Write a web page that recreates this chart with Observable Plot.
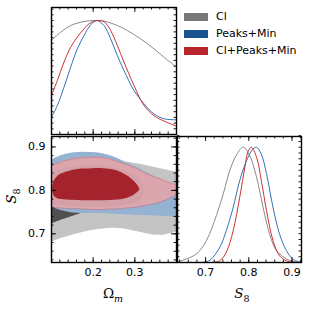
<!DOCTYPE html>
<html><head><meta charset="utf-8">
<script src="https://cdn.jsdelivr.net/npm/d3@7"></script>
<script src="https://cdn.jsdelivr.net/npm/@observablehq/plot@0.6"></script>
<style>
body{margin:0;background:#fff;}
#wrap{position:relative;width:310px;height:310px;overflow:hidden;font-family:"DejaVu Sans",sans-serif;}
.lab{position:absolute;font-family:"DejaVu Serif",serif;font-size:13.5px;color:#000;white-space:nowrap;line-height:1;}
.lab sub{font-size:9.5px;}
.leg{position:absolute;left:184px;font-size:11px;color:#000;line-height:1;white-space:nowrap;}
.leg span.p{display:inline-block;width:24px;height:8px;vertical-align:middle;margin-right:8px;}
</style></head><body><div id="wrap"></div>
<script>
// ---------- data ----------
const seriesNames = ["Cl", "Peaks+Min", "Cl+Peaks+Min"];
const patchColors = ["#787878", "#1b5591", "#b8242b"];
const lineColors = ["#8a8a8a", "#3372b5", "#d03036"];

// 1D posterior of Omega_m
const omCl = [0.1, 0.122, 0.146, 0.178, 0.202, 0.226, 0.258, 0.282, 0.314, 0.346, 0.37, 0.4];
const pOmCl = [0.825, 0.897, 0.956, 0.991, 1.0, 0.994, 0.956, 0.912, 0.839, 0.751, 0.678, 0.59];
const omPM = [0.1, 0.114, 0.13, 0.146, 0.162, 0.178, 0.194, 0.208, 0.226, 0.242, 0.258, 0.274, 0.298, 0.322, 0.346, 0.37, 0.4];
const pOmPM = [0.152, 0.254, 0.415, 0.59, 0.751, 0.868, 0.962, 1.0, 0.956, 0.839, 0.693, 0.561, 0.386, 0.269, 0.181, 0.138, 0.129];
const omAll = [0.1, 0.114, 0.13, 0.146, 0.162, 0.178, 0.194, 0.214, 0.226, 0.242, 0.258, 0.274, 0.298, 0.322, 0.346, 0.37, 0.4];
const pOmAll = [0.342, 0.474, 0.635, 0.766, 0.854, 0.927, 0.98, 1.0, 0.99, 0.912, 0.78, 0.635, 0.43, 0.255, 0.165, 0.118, 0.073];

// 1D posterior of S8
const s8Cl = [0.635, 0.656, 0.679, 0.702, 0.725, 0.741, 0.756, 0.772, 0.787, 0.802, 0.818, 0.833, 0.848, 0.864, 0.887, 0.902, 0.922];
const pS8Cl = [0.005, 0.032, 0.075, 0.191, 0.408, 0.596, 0.798, 0.937, 1.0, 0.928, 0.74, 0.48, 0.249, 0.104, 0.032, 0.01, 0.0];
const s8PM = [0.69, 0.71, 0.733, 0.748, 0.764, 0.779, 0.795, 0.81, 0.818, 0.829, 0.841, 0.856, 0.871, 0.887, 0.902, 0.922];
const pS8PM = [0.0, 0.02, 0.133, 0.278, 0.48, 0.711, 0.885, 0.985, 1.0, 0.94, 0.77, 0.48, 0.249, 0.104, 0.03, 0.0];
const s8All = [0.71, 0.733, 0.748, 0.764, 0.779, 0.791, 0.798, 0.806, 0.818, 0.829, 0.841, 0.856, 0.871, 0.887, 0.91];
const pS8All = [0.0, 0.015, 0.09, 0.278, 0.566, 0.827, 0.96, 1.0, 0.913, 0.711, 0.451, 0.191, 0.06, 0.015, 0.0];

// 2D contours (Omega_m vs S8): lower / upper boundaries
const gridOm = [0.1, 0.125, 0.15, 0.175, 0.2, 0.225, 0.25, 0.275, 0.3, 0.325, 0.35, 0.375, 0.4];
const clOuterHi = [0.860, 0.864, 0.868, 0.871, 0.872, 0.872, 0.870, 0.866, 0.862, 0.858, 0.852, 0.847, 0.842];
const clOuterLo = [0.681, 0.690, 0.697, 0.703, 0.708, 0.711, 0.713, 0.711, 0.706, 0.701, 0.697, 0.698, 0.704];
const pmOuterHi = [0.869, 0.880, 0.886, 0.888, 0.887, 0.884, 0.877, 0.866, 0.855, 0.843, 0.831, 0.820, 0.808];
const pmOuterLo = [0.762, 0.753, 0.748, 0.747, 0.747, 0.746, 0.745, 0.744, 0.743, 0.742, 0.741, 0.740, 0.738];
const allOuterHi = [0.856, 0.866, 0.872, 0.875, 0.876, 0.875, 0.869, 0.861, 0.852, 0.840, 0.830, 0.821, 0.812];
const allOuterLo = [0.761, 0.759, 0.758, 0.757, 0.756, 0.756, 0.757, 0.759, 0.761, 0.765, 0.770, 0.778, 0.790];

const clInnerOm = [0.1, 0.125, 0.15, 0.175, 0.2, 0.225, 0.25, 0.275, 0.3, 0.32];
const clInnerHi = [0.830, 0.836, 0.840, 0.842, 0.842, 0.840, 0.836, 0.830, 0.820, 0.800];
const clInnerLo = [0.723, 0.732, 0.740, 0.748, 0.754, 0.759, 0.763, 0.767, 0.772, 0.785];
const pmInnerOm = [0.1, 0.125, 0.15, 0.175, 0.2, 0.225, 0.25, 0.275, 0.3, 0.315, 0.322];
const pmInnerHi = [0.838, 0.848, 0.853, 0.856, 0.857, 0.856, 0.852, 0.845, 0.834, 0.822, 0.808];
const pmInnerLo = [0.768, 0.765, 0.763, 0.762, 0.762, 0.762, 0.763, 0.765, 0.770, 0.778, 0.792];
const allInnerOm = [0.103, 0.107, 0.115, 0.125, 0.15, 0.175, 0.2, 0.225, 0.25, 0.27, 0.29, 0.30, 0.308, 0.312];
const allInnerHi = [0.808, 0.822, 0.832, 0.838, 0.846, 0.849, 0.850, 0.850, 0.847, 0.840, 0.828, 0.819, 0.810, 0.803];
const allInnerLo = [0.796, 0.786, 0.781, 0.779, 0.777, 0.776, 0.776, 0.776, 0.777, 0.779, 0.785, 0.790, 0.796, 0.801];

// axis ticks
const omDomain = [0.1, 0.4];
const s8Domain = [0.634, 0.924];
const omLabels = [0.2, 0.3];
const s8Labels = [0.7, 0.8, 0.9];

// ---------- helpers ----------
const pts = (xs, ys) => xs.map((x, i) => ({x, y: ys[i]}));
const band = (xs, lo, hi) => xs.map((x, i) => ({x, lo: lo[i], hi: hi[i]}));
const rng = (a, b, s) => d3.range(Math.round(a / s), Math.round(b / s) + 1).map(k => +(k * s).toFixed(4));
const omMinor = rng(0.1, 0.4, 0.02), omMajor = rng(0.1, 0.4, 0.1);
const s8Minor = rng(0.64, 0.92, 0.02), s8Major = rng(0.7, 0.9, 0.1);
const dMinor = rng(0, 1.1, 0.05);

function tx(vals, len, H) {
  return [
    Plot.tickX(vals, {x: d => d, insetTop: H - len, stroke: "#000", strokeWidth: 0.9}),
    Plot.tickX(vals, {x: d => d, insetBottom: H - len, stroke: "#000", strokeWidth: 0.9})
  ];
}
function ty(vals, len, Wd) {
  return [
    Plot.tickY(vals, {y: d => d, insetRight: Wd - len, stroke: "#000", strokeWidth: 0.9}),
    Plot.tickY(vals, {y: d => d, insetLeft: Wd - len, stroke: "#000", strokeWidth: 0.9})
  ];
}
const wrap = document.getElementById("wrap");
function place(el, left, top) {
  el.style.position = "absolute";
  el.style.left = left + "px";
  el.style.top = top + "px";
  wrap.appendChild(el);
}
const lineOpts = (c) => ({x: "x", y: "y", stroke: c, strokeWidth: 1, curve: "catmull-rom", clip: true});
const baseStyle = {fontFamily: "DejaVu Sans, sans-serif", fontSize: "11px", color: "#000", background: "transparent", overflow: "visible"};

// ---------- panel 1: Omega_m 1D ----------
{
  const H = 127, Wd = 125;
  const p = Plot.plot({
    width: 180, height: 136, marginLeft: 51, marginRight: 4, marginTop: 7, marginBottom: 2,
    style: baseStyle,
    x: {domain: omDomain, axis: null},
    y: {domain: [0, 1.114], axis: null},
    marks: [
      Plot.line(pts(omCl, pOmCl), lineOpts(lineColors[0])),
      Plot.line(pts(omPM, pOmPM), lineOpts(lineColors[1])),
      Plot.line(pts(omAll, pOmAll), lineOpts(lineColors[2])),
      ...tx(omMinor, 2.5, H), ...tx(omMajor, 5, H),
      ...ty(dMinor, 2.5, Wd),
      Plot.frame({stroke: "#000", strokeWidth: 1.4})
    ]
  });
  place(p, 0, 0);
}

// ---------- panel 2: 2D contours ----------
{
  const H = 126, Wd = 125;
  const areaO = {x: "x", y1: "lo", y2: "hi", curve: "catmull-rom", clip: true};
  const p = Plot.plot({
    width: 180, height: 180, marginLeft: 51, marginRight: 4, marginTop: 6, marginBottom: 48,
    style: baseStyle,
    x: {domain: omDomain, ticks: omLabels, tickSize: 0, tickPadding: 6, tickFormat: d3.format(".1f"), label: null},
    y: {domain: s8Domain, ticks: s8Labels, tickSize: 0, tickPadding: 6, tickFormat: d3.format(".1f"), label: null},
    marks: [
      Plot.areaY(band(gridOm, clOuterLo, clOuterHi), {...areaO, fill: "#c4c4c4"}),
      Plot.areaY(band(clInnerOm, clInnerLo, clInnerHi), {...areaO, fill: "#505050"}),
      Plot.areaY(band(gridOm, pmOuterLo, pmOuterHi), {...areaO, fill: "#94b2d2"}),
      Plot.areaY(band(pmInnerOm, pmInnerLo, pmInnerHi), {...areaO, fill: "#5f84ae"}),
      Plot.areaY(band(gridOm, allOuterLo, allOuterHi), {...areaO, fill: "#e2a4a9", fillOpacity: 0.9}),
      Plot.line(pts(gridOm, allOuterHi), {x: "x", y: "y", stroke: "#d0707a", strokeWidth: 0.6, curve: "catmull-rom", clip: true}),
      Plot.line(pts(gridOm, allOuterLo), {x: "x", y: "y", stroke: "#d0707a", strokeWidth: 0.6, curve: "catmull-rom", clip: true}),
      Plot.areaY(band(allInnerOm, allInnerLo, allInnerHi), {...areaO, fill: "#a4232c"}),
      ...tx(omMinor, 2.5, H), ...tx(omMajor, 5, H),
      ...ty(s8Minor, 2.5, Wd), ...ty(s8Major, 5, Wd),
      Plot.frame({stroke: "#000", strokeWidth: 1.4})
    ]
  });
  place(p, 0, 130);
}

// ---------- panel 3: S8 1D ----------
{
  const H = 126, Wd = 124;
  const p = Plot.plot({
    width: 140, height: 180, marginLeft: 7, marginRight: 9, marginTop: 6, marginBottom: 48,
    style: baseStyle,
    x: {domain: [0.635, 0.922], ticks: s8Labels, tickSize: 0, tickPadding: 6, tickFormat: d3.format(".1f"), label: null},
    y: {domain: [0, 1.093], axis: null},
    marks: [
      Plot.line(pts(s8Cl, pS8Cl), lineOpts(lineColors[0])),
      Plot.line(pts(s8PM, pS8PM), lineOpts(lineColors[1])),
      Plot.line(pts(s8All, pS8All), lineOpts(lineColors[2])),
      ...tx(s8Minor, 2.5, H), ...tx(s8Major, 5, H),
      ...ty(dMinor, 2.5, Wd),
      Plot.frame({stroke: "#000", strokeWidth: 1.4})
    ]
  });
  place(p, 170, 130);
}

// ---------- labels ----------
function lab(html, x, y, rot) {
  const d = document.createElement("div");
  d.className = "lab";
  d.innerHTML = html;
  d.style.left = x + "px";
  d.style.top = y + "px";
  d.style.transform = "translate(-50%,-50%)" + (rot ? " rotate(-90deg)" : "");
  wrap.appendChild(d);
}
lab("Ω<sub><i>m</i></sub>", 113, 295);
lab("<i>S</i><sub>8</sub>", 242, 295);
lab("<i>S</i><sub>8</sub>", 13, 196, true);

// ---------- legend ----------
seriesNames.forEach((name, i) => {
  const d = document.createElement("div");
  d.className = "leg";
  d.style.top = (11 + i * 17) + "px";
  d.innerHTML = `<span class="p" style="background:${patchColors[i]}"></span>${name}`;
  wrap.appendChild(d);
});
</script>
</body></html>
